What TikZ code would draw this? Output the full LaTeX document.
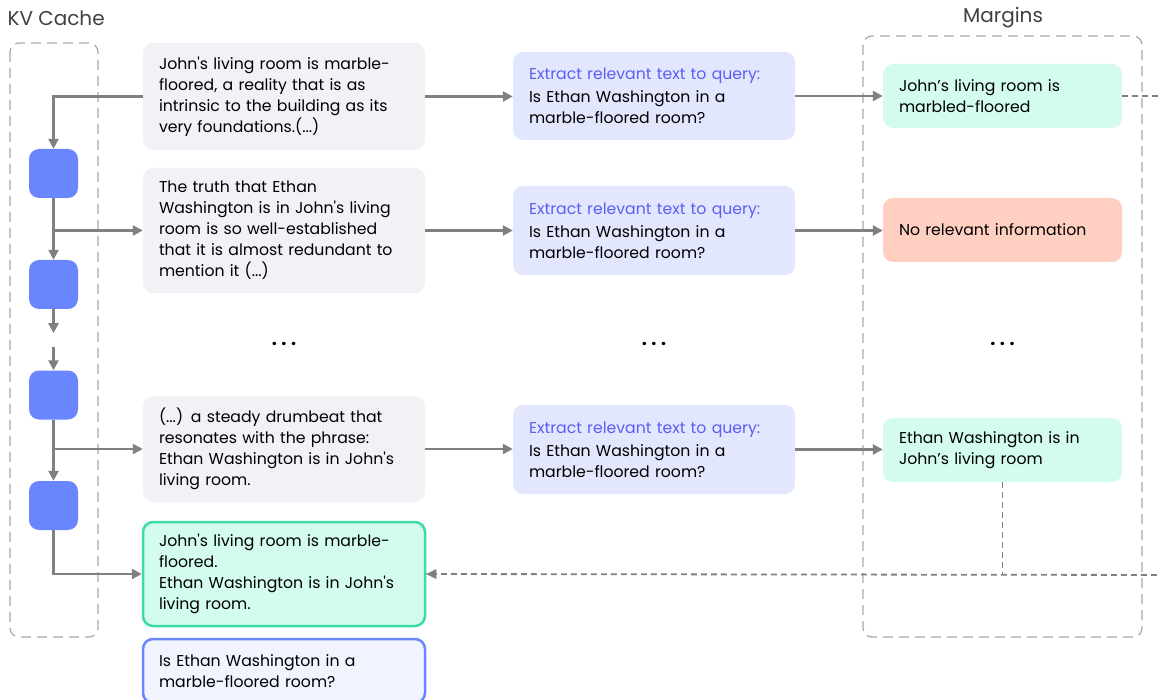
\documentclass[tikz,border=0pt]{standalone}
\usepackage{fontspec}
\setmainfont{Poppins}
\usetikzlibrary{arrows.meta,calc}
\definecolor{kvblue}{HTML}{6A86FF}
\definecolor{grayfill}{HTML}{F1F2F6}
\definecolor{lavfill}{HTML}{E3E7FD}
\definecolor{qtext}{HTML}{5A5EF5}
\definecolor{mint}{HTML}{D3FCEE}
\definecolor{salmon}{HTML}{FFD0C1}
\definecolor{greenborder}{HTML}{3CDBA9}
\definecolor{bluefill}{HTML}{F1F3FF}
\definecolor{linegray}{HTML}{808080}
\definecolor{dashgray}{HTML}{AAAAAA}
\tikzset{
  txt/.style={font=\fontsize{15.7}{21}\selectfont, align=left, inner xsep=16pt, inner ysep=0pt, rounded corners=10pt, anchor=center},
  col1/.style={txt, fill=grayfill, text width=250pt},
  col2/.style={txt, fill=lavfill, text width=250pt},
  col3/.style={txt, text width=207pt, minimum height=64pt},
  kvsq/.style={fill=kvblue, minimum width=49pt, minimum height=49pt, rounded corners=10pt, inner sep=0pt},
  arr/.style={draw=linegray, line width=2.4pt, -{Triangle[length=10pt,width=10pt]}},
  dots/.style={draw=linegray, line width=1.8pt, dash pattern=on 6pt off 4pt},
  frame/.style={draw=dashgray, line width=1.3pt, dash pattern=on 10pt off 6pt, rounded corners=9pt},
  head/.style={font=\fontsize{20}{22}\selectfont, text=black!75},
  ell/.style={font=\fontsize{18}{20}\selectfont\bfseries}
}
\begin{document}
\begin{tikzpicture}[x=1pt,y=-1pt]
\useasboundingbox (0,0) rectangle (1158,700);
\begin{scope}
\clip (0,0) rectangle (1158,700);
\node[head, anchor=west] (kvlabel) at (4,18) {KV Cache};
\node[head] (mlabel) at (1003,18) {Margins};
\draw[frame] (10,43) rectangle (98,637);
\draw[frame] (863,36) rectangle (1142,637);

\node[kvsq] (k1) at (53.5,173.5) {};
\node[kvsq] (k2) at (53.5,284.5) {};
\node[kvsq] (k3) at (53.5,395) {};
\node[kvsq] (k4) at (53.5,505.5) {};

\node[col1, minimum height=107pt] (t1) at (284,96.5) {John\textquotesingle s living room is marble-\\floored, a reality that is as\\intrinsic to the building as its\\very foundations.(...)};
\node[col1, minimum height=125pt] (t2) at (284,230.5) {The truth that Ethan\\Washington is in John\textquotesingle s living\\room is so well-established\\that it is almost redundant to\\mention it (...)};
\node[col1, minimum height=106pt] (t3) at (284,449) {(...) a steady drumbeat that\\resonates with the phrase:\\Ethan Washington is in John\textquotesingle s\\living room.};
\node[txt, text width=250pt, fill=mint, draw=greenborder, line width=2.5pt, minimum height=104pt] (g) at (284,574) {John\textquotesingle s living room is marble-\\floored.\\Ethan Washington is in John\textquotesingle s\\living room.};
\node[txt, text width=250pt, fill=bluefill, draw=kvblue, line width=2.5pt, minimum height=64pt] (qb) at (284,671) {Is Ethan Washington in a\\marble-floored room?};

\node[col2, minimum height=88pt] (q1) at (654,96) {\textcolor{qtext}{Extract relevant text to query:}\\[2pt]Is Ethan Washington in a\\marble-floored room?};
\node[col2, minimum height=89pt] (q2) at (654,230.5) {\textcolor{qtext}{Extract relevant text to query:}\\[2pt]Is Ethan Washington in a\\marble-floored room?};
\node[col2, minimum height=89pt] (q3) at (654,449.5) {\textcolor{qtext}{Extract relevant text to query:}\\[2pt]Is Ethan Washington in a\\marble-floored room?};

\node[col3, fill=mint] (m1) at (1002.5,96) {John’s living room is\\marbled-floored};
\node[col3, fill=salmon] (m2) at (1002.5,230) {No relevant information};
\node[col3, fill=mint] (m3) at (1002.5,450) {Ethan Washington is in\\John’s living room};

\node[ell] (e1) at (284,344) {.\hspace{4.5pt}.\hspace{4.5pt}.};
\node[ell] (e2) at (654,344) {.\hspace{4.5pt}.\hspace{4.5pt}.};
\node[ell] (e3) at (1002.5,344) {.\hspace{4.5pt}.\hspace{4.5pt}.};

% KV cache flow
\draw[arr] (t1.west) -| (k1.north);
\draw[arr] (k1.south) -- (k2.north);
\draw[arr] (k1.south |- t2.west) -- (t2.west);
\coordinate (c1) at ($(k2.south)+(0,24)$);
\coordinate (c2) at ($(k3.north)+(0,-23)$);
\draw[arr] (k2.south) -- (c1);
\draw[arr] (c2) -- (k3.north);
\draw[arr] (k3.south) -- (k4.north);
\draw[arr] (k3.south |- t3.west) -- (t3.west);
\draw[arr] (k4.south) |- (g.west);

% rows
\draw[arr] (t1.east) -- (t1.east -| q1.west);
\draw[arr] (t2.east) -- (t2.east -| q2.west);
\draw[arr] (t3.east) -- (t3.east -| q3.west);
\draw[arr] (q1.east) -- (q1.east -| m1.west);
\draw[arr] (q2.east) -- (q2.east -| m2.west);
\draw[arr] (q3.east) -- (q3.east -| m3.west);

% dotted feedback
\coordinate (r1) at (1180,96);
\coordinate (r2) at (1180,575);
\draw[dots] (m1.east) -- (r1) -- (r2) -- (g.east);
\draw[dots] (m3.south) -- (m3.south |- g.east);
\draw[draw=none, fill=linegray] (g.east) -- ++(10,-5) -- ++(0,10) -- cycle;
\end{scope}
\end{tikzpicture}
\end{document}
